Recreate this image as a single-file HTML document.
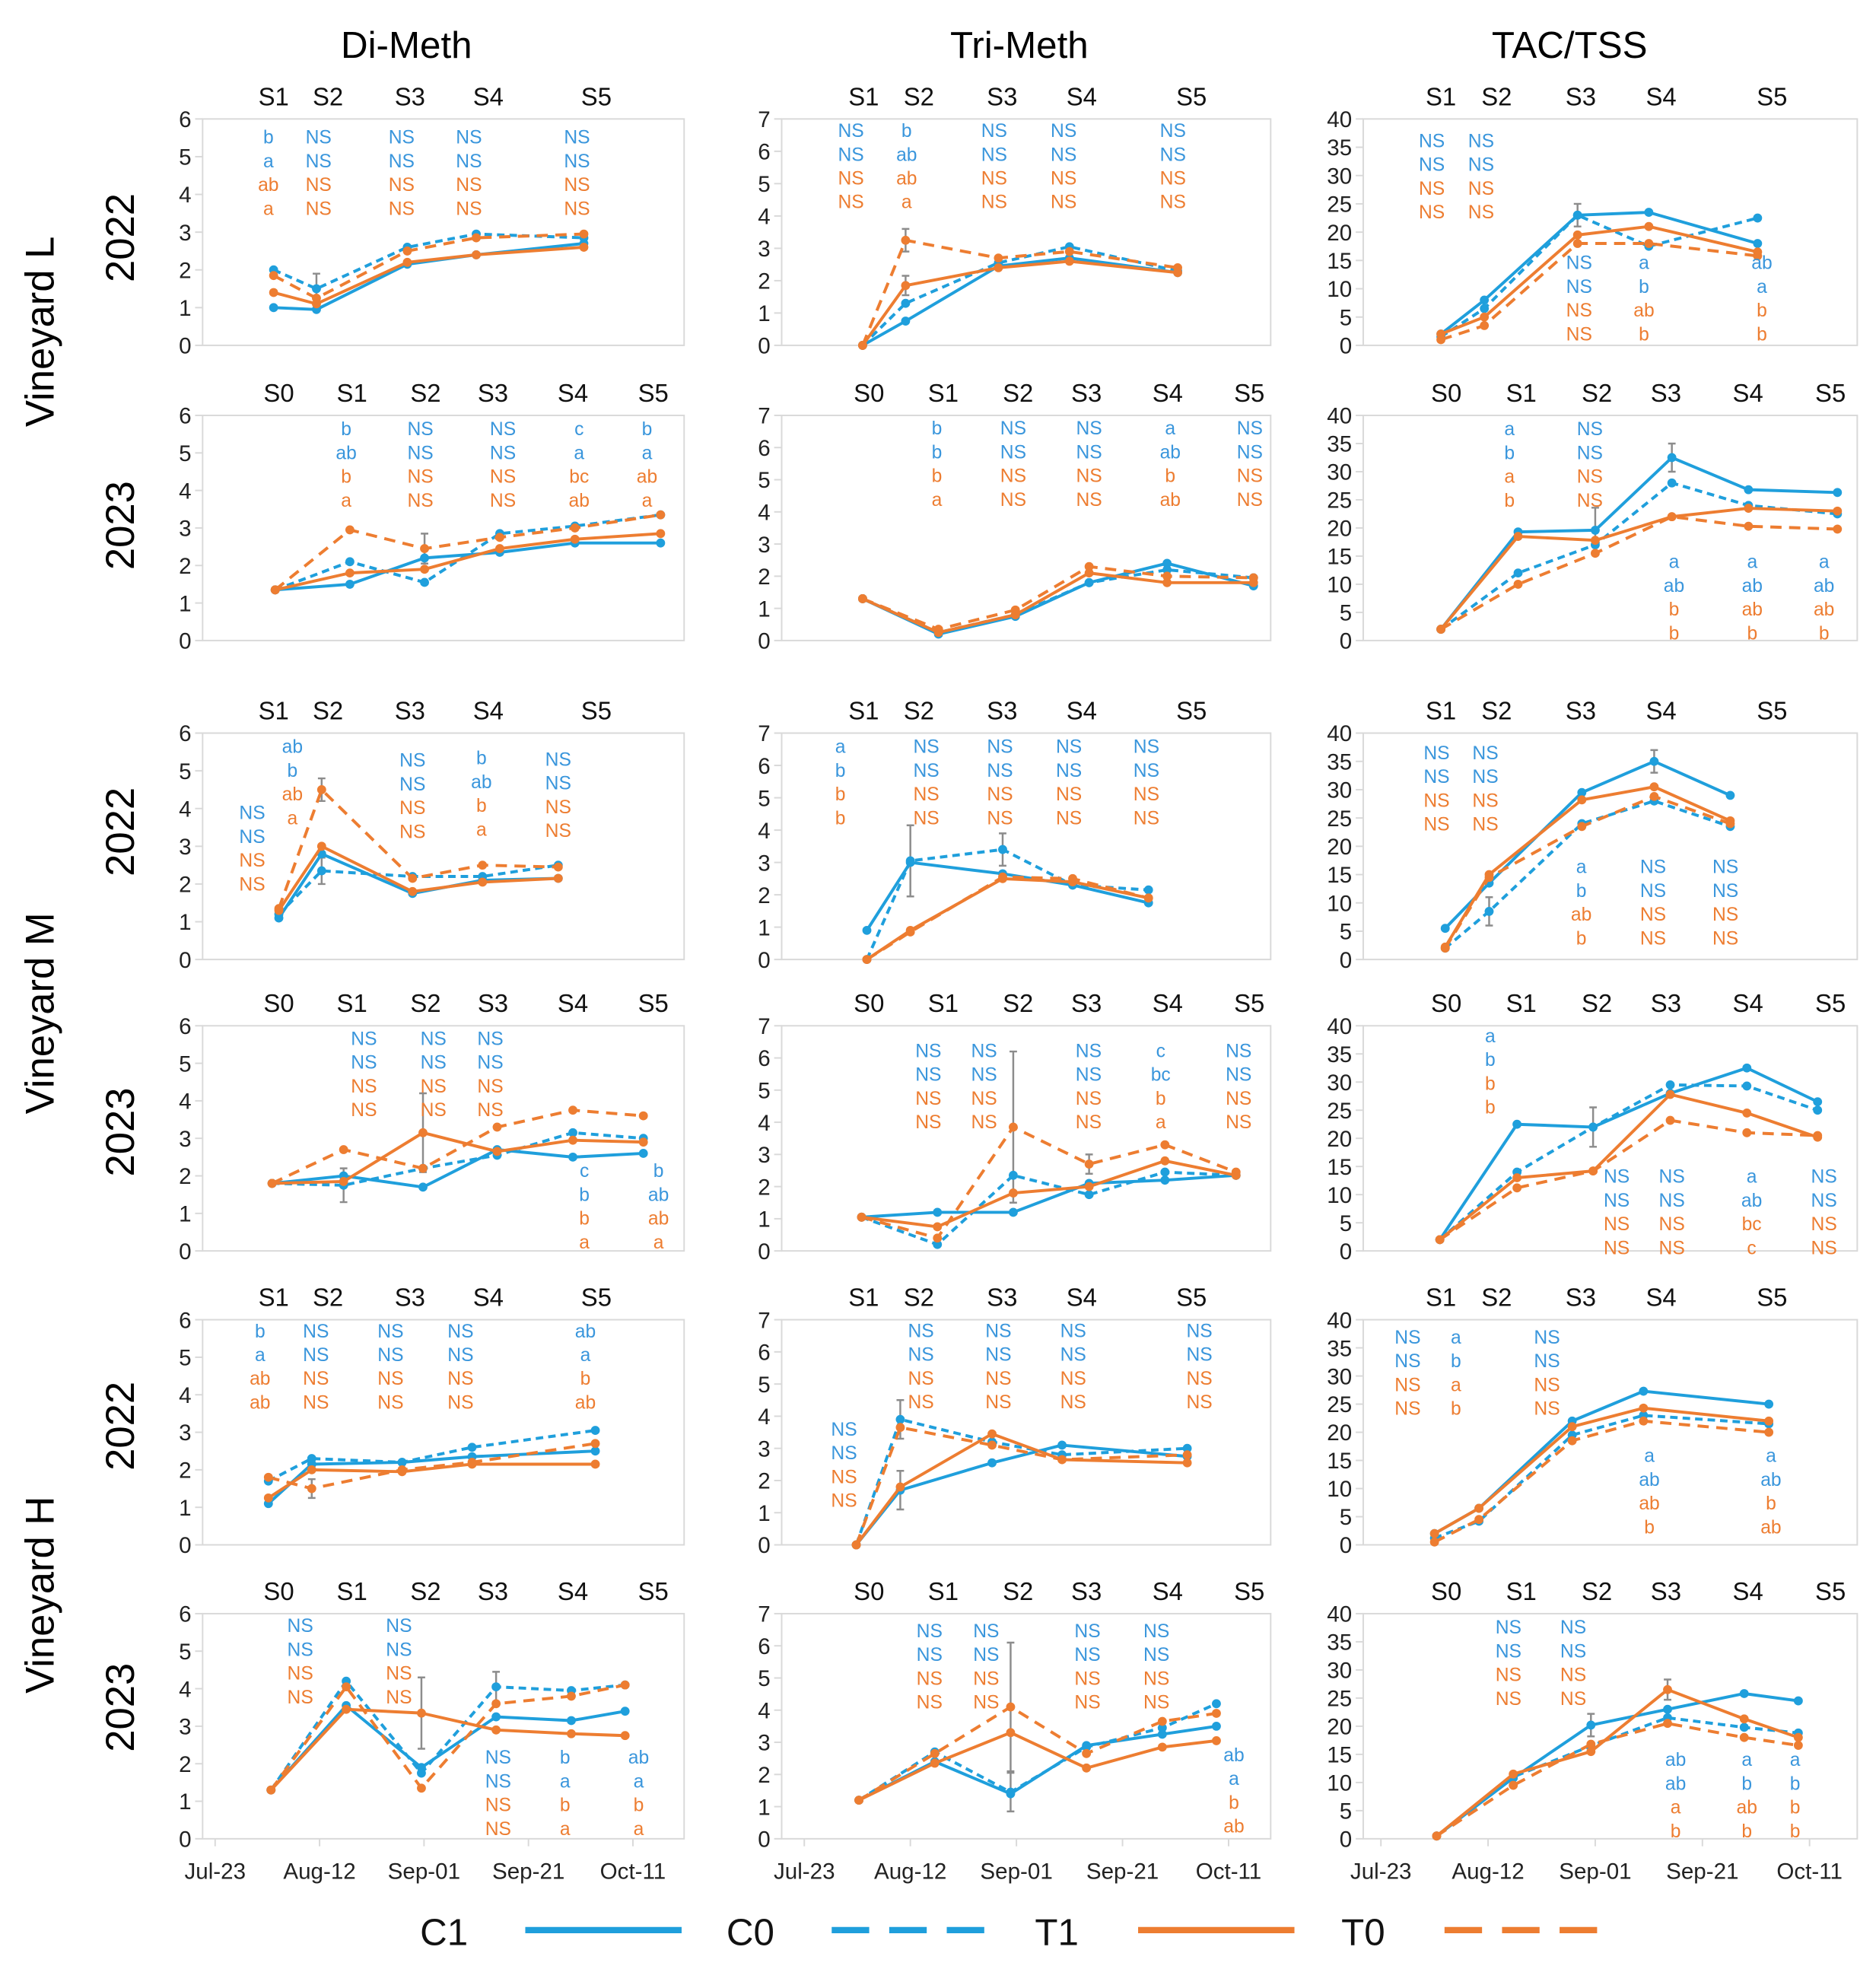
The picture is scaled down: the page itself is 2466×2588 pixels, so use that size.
<!DOCTYPE html>
<html><head><meta charset="utf-8"><title>Methoxypyrazine and TAC/TSS panels</title>
<style>html,body{margin:0;padding:0;background:#fff}svg{display:block}text{font-family:"Liberation Sans",sans-serif}</style>
</head><body>
<svg id="chart" xmlns="http://www.w3.org/2000/svg" width="2466" height="2588" viewBox="0 0 1500 1574"></svg>
<script>
// ---- tick / category arrays ----
const dateLabels = ["Jul-23","Aug-12","Sep-01","Sep-21","Oct-11"];
const dateDays = [0,20,40,60,80];
const stages22 = ["S1","S2","S3","S4","S5"];
const stages23 = ["S0","S1","S2","S3","S4","S5"];
const stageDays22 = [11.2,21.6,37.3,52.3,73];
const stageDays23 = [12.2,26.2,40.3,53.2,68.5,83.9];
const seriesNames = ["C1","C0","T1","T0"];

// ---- Vineyard L 2022 ----
const L22_di_days=[11.2,19.4,36.8,50.0,70.6];
const L22_di_C1=[1.0,0.95,2.15,2.4,2.7];
const L22_di_C0=[2.0,1.5,2.6,2.95,2.85];
const L22_di_T1=[1.4,1.1,2.2,2.4,2.6];
const L22_di_T0=[1.85,1.25,2.5,2.85,2.95];
const L22_tri_days=[11,19.1,36.6,50,70.4];
const L22_tri_C1=[0,0.75,2.45,2.7,2.25];
const L22_tri_C0=[0,1.3,2.55,3.05,2.3];
const L22_tri_T1=[0,1.85,2.4,2.6,2.25];
const L22_tri_T0=[0,3.25,2.7,2.9,2.4];
const L22_tac_days=[11.2,19.3,36.7,50,70.3];
const L22_tac_C1=[2,8,23,23.5,18];
const L22_tac_C0=[1.5,6.5,23,17.5,22.5];
const L22_tac_T1=[2,5,19.5,21,16.5];
const L22_tac_T0=[1,3.5,18,18,15.8];
// ---- Vineyard L 2023 ----
const L23_di_days=[11.5,25.8,40.1,54.5,68.9,85.3];
const L23_di_C1=[1.35,1.5,2.2,2.35,2.6,2.6];
const L23_di_C0=[1.35,2.1,1.55,2.85,3.05,3.35];
const L23_di_T1=[1.35,1.8,1.9,2.45,2.7,2.85];
const L23_di_T0=[1.35,2.95,2.45,2.75,3.0,3.35];
const L23_tri_days=[11,25.3,39.8,53.7,68.4,84.7];
const L23_tri_C1=[1.3,0.2,0.75,1.8,2.4,1.7];
const L23_tri_C0=[1.3,0.25,0.8,1.8,2.2,1.95];
const L23_tri_T1=[1.3,0.25,0.8,2.1,1.8,1.8];
const L23_tri_T0=[1.3,0.35,0.95,2.3,2.0,1.95];
const L23_tac_days=[11.2,25.6,40,54.3,68.6,85.2];
const L23_tac_C1=[2,19.3,19.6,32.5,26.8,26.3];
const L23_tac_C0=[2,12,17,28,24,22.5];
const L23_tac_T1=[2,18.5,17.8,22,23.5,23];
const L23_tac_T0=[2,10,15.5,22,20.3,19.8];
// ---- Vineyard M 2022 ----
const M22_di_days=[12.2,20.4,37.8,51.2,65.7];
const M22_di_C1=[1.1,2.8,1.75,2.1,2.15];
const M22_di_C0=[1.2,2.35,2.2,2.2,2.5];
const M22_di_T1=[1.3,3.0,1.8,2.05,2.15];
const M22_di_T0=[1.35,4.5,2.15,2.5,2.45];
const M22_tri_days=[11.8,20,37.4,50.6,64.9];
const M22_tri_C1=[0.9,3.0,2.65,2.3,1.75];
const M22_tri_C0=[0,3.05,3.4,2.3,2.15];
const M22_tri_T1=[0,0.9,2.5,2.4,1.9];
const M22_tri_T0=[0,0.85,2.55,2.5,1.9];
const M22_tac_days=[12,20.2,37.5,51,65.2];
const M22_tac_C1=[5.5,13.5,29.5,35,29];
const M22_tac_C0=[2,8.5,24,28,23.5];
const M22_tac_T1=[2.2,15,28.2,30.5,24.5];
const M22_tac_T0=[2,14.5,23.5,28.8,24];
// ---- Vineyard M 2023 ----
const M23_di_days=[10.9,24.6,39.8,54,68.5,82];
const M23_di_C1=[1.8,2.0,1.7,2.7,2.5,2.6];
const M23_di_C0=[1.8,1.75,2.2,2.55,3.15,3.0];
const M23_di_T1=[1.8,1.85,3.15,2.65,2.95,2.9];
const M23_di_T0=[1.8,2.7,2.2,3.3,3.75,3.6];
const M23_tri_days=[10.8,25.1,39.4,53.7,68,81.4];
const M23_tri_C1=[1.05,1.2,1.2,2.1,2.2,2.35];
const M23_tri_C0=[1.05,0.2,2.35,1.75,2.45,2.35];
const M23_tri_T1=[1.05,0.75,1.8,2.0,2.8,2.35];
const M23_tri_T0=[1.05,0.4,3.85,2.7,3.3,2.45];
const M23_tac_days=[11,25.4,39.6,54,68.3,81.5];
const M23_tac_C1=[2,22.5,22,28,32.5,26.5];
const M23_tac_C0=[2,14,22,29.5,29.3,25];
const M23_tac_T1=[2,13,14.2,27.8,24.5,20.2];
const M23_tac_T0=[2,11.2,14.2,23.2,21,20.5];
// ---- Vineyard H 2022 ----
const H22_di_days=[10.2,18.5,35.8,49.2,72.8];
const H22_di_C1=[1.1,2.15,2.2,2.35,2.5];
const H22_di_C0=[1.7,2.3,2.2,2.6,3.05];
const H22_di_T1=[1.25,2.0,1.95,2.15,2.15];
const H22_di_T0=[1.8,1.5,2.0,2.2,2.7];
const H22_tri_days=[9.8,18.1,35.4,48.6,72.2];
const H22_tri_C1=[0,1.7,2.55,3.1,2.75];
const H22_tri_C0=[0,3.9,3.2,2.8,3.0];
const H22_tri_T1=[0,1.8,3.45,2.65,2.55];
const H22_tri_T0=[0,3.65,3.1,2.65,2.8];
const H22_tac_days=[10,18.3,35.7,49,72.4];
const H22_tac_C1=[2,6.5,22,27.3,25];
const H22_tac_C0=[1.2,4.2,19.5,23,21.5];
const H22_tac_T1=[2,6.5,21,24.3,22];
const H22_tac_T0=[0.5,4.5,18.5,22,20];
// ---- Vineyard H 2023 ----
const H23_di_days=[10.7,25.1,39.5,53.8,68.2,78.5];
const H23_di_C1=[1.3,3.55,1.9,3.25,3.15,3.4];
const H23_di_C0=[1.3,4.2,1.75,4.05,3.95,4.1];
const H23_di_T1=[1.3,3.45,3.35,2.9,2.8,2.75];
const H23_di_T0=[1.3,4.05,1.35,3.6,3.8,4.1];
const H23_tri_days=[10.3,24.6,38.9,53.2,67.5,77.7];
const H23_tri_C1=[1.2,2.4,1.4,2.9,3.25,3.5];
const H23_tri_C0=[1.2,2.7,1.45,2.85,3.45,4.2];
const H23_tri_T1=[1.2,2.35,3.3,2.2,2.85,3.05];
const H23_tri_T0=[1.2,2.65,4.1,2.65,3.65,3.9];
const H23_tac_days=[10.4,24.7,39.2,53.5,67.8,77.9];
const H23_tac_C1=[0.5,10.8,20.2,23,25.8,24.5];
const H23_tac_C0=[0.5,11,16.5,21.5,19.8,18.8];
const H23_tac_T1=[0.5,11.5,15.5,26.5,21.3,18];
const H23_tac_T0=[0.5,9.5,16.8,20.5,18,16.6];

// ---- error bars: [panelId, seriesIndex, pointIndex, halfWidth] ----
const errorBars=[
 ["L22_tri",3,1,0.35],["L22_tri",2,1,0.3],["L22_tac",0,2,2],["L22_di",1,1,0.4],
 ["L23_tac",0,2,4],["L23_tac",0,3,2.5],["L23_di",3,2,0.4],
 ["M22_di",3,1,0.3],["M22_di",1,1,0.35],["M22_tri",1,1,1.1],["M22_tri",1,2,0.5],["M22_tac",1,1,2.5],["M22_tac",0,3,2],
 ["M23_di",2,2,1.05],["M23_di",1,1,0.45],["M23_tri",3,2,2.35],["M23_tri",3,3,0.3],["M23_tac",1,2,3.5],
 ["H22_tri",1,1,0.6],["H22_tri",0,1,0.6],["H22_di",3,1,0.25],
 ["H23_di",2,2,0.95],["H23_di",1,3,0.4],["H23_tri",3,2,2.0],["H23_tri",1,2,0.6],["H23_tac",2,3,1.8],["H23_tac",0,2,2]
];

// ---- significance letters: [day, offsetPx, labels] ----
const NS=["NS","NS","NS","NS"];
const letters={
 L22_di:[[10.2,14.7,["b","a","ab","a"]],[19.8,14.7,NS],[35.7,14.7,NS],[48.6,14.7,NS],[69.3,14.7,NS]],
 L23_di:[[25.1,10.9,["b","ab","b","a"]],[39.3,10.9,NS],[55.1,10.9,NS],[69.7,10.9,["c","a","bc","ab"]],[82.7,10.9,["b","a","ab","a"]]],
 M22_di:[[7.1,63.8,NS],[14.8,10.9,["ab","b","ab","a"]],[37.8,21.8,NS],[51,20,["b","ab","b","a"]],[65.7,21,NS]],
 M23_di:[[28.5,10.3,NS],[41.8,10.3,NS],[52.7,10.3,NS],[70.7,116,["c","b","b","a"]],[84.9,116,["b","ab","ab","a"]]],
 H22_di:[[8.6,9.1,["b","a","ab","ab"]],[19.3,9.1,NS],[33.6,9.1,NS],[47,9.1,NS],[70.9,9.1,["ab","a","b","ab"]]],
 H23_di:[[16.3,9.7,NS],[35.2,9.7,NS],[54.2,115,NS],[67,115,["b","a","b","a"]],[81.1,115,["ab","a","b","a"]]],
 L22_tri:[[8.8,9.4,NS],[19.3,9.4,["b","ab","ab","a"]],[35.8,9.4,NS],[48.9,9.4,NS],[69.5,9.4,NS]],
 L23_tri:[[25,10.3,["b","b","b","a"]],[39.4,10.3,NS],[53.7,10.3,NS],[69,10.3,["a","ab","b","ab"]],[84,10.3,NS]],
 M22_tri:[[6.8,10.9,["a","b","b","b"]],[23,10.9,NS],[36.9,10.9,NS],[49.9,10.9,NS],[64.5,10.9,NS]],
 M23_tri:[[23.4,20,NS],[33.9,20,NS],[53.6,20,NS],[67.2,20,["c","bc","b","a"]],[81.9,20,NS]],
 H22_tri:[[7.5,87.6,NS],[22,8.8,NS],[36.6,8.8,NS],[50.7,8.8,NS],[74.5,8.8,NS]],
 H23_tri:[[23.6,13.8,NS],[34.3,13.8,NS],[53.4,13.8,NS],[66.4,13.8,NS],[81,113,["ab","a","b","ab"]]],
 L22_tac:[[9.5,17.6,NS],[18.7,17.6,NS],[37,115,NS],[49.1,115,["a","b","ab","b"]],[71.1,115,["ab","a","b","b"]]],
 L23_tac:[[24,10.9,["a","b","a","b"]],[39,10.9,NS],[54.7,117,["a","ab","b","b"]],[69.3,117,["a","ab","ab","b"]],[82.7,117,["a","ab","ab","b"]]],
 M22_tac:[[10.4,15.9,NS],[19.5,15.9,NS],[37.4,107,["a","b","ab","b"]],[50.8,107,NS],[64.3,107,NS]],
 M23_tac:[[20.4,8.2,["a","b","b","b"]],[44,120.6,NS],[54.3,120.6,NS],[69.2,120.6,["a","ab","bc","c"]],[82.7,120.6,NS]],
 H22_tac:[[5,14.1,NS],[14,14.1,["a","b","a","b"]],[31,14.1,NS],[50.1,108.8,["a","ab","ab","b"]],[72.8,108.8,["a","ab","b","ab"]]],
 H23_tac:[[23.8,10.9,NS],[35.9,10.9,NS],[55,116.8,["ab","ab","a","b"]],[68.3,116.8,["a","b","ab","b"]],[77.3,116.8,["a","b","b","b"]]]
};

// ---- layout ----
const BLUE="#1f9fdc", ORANGE="#ed7d31", LBLUE="#3a96dc";
const colX=[[162,547],[625,1016],[1090,1485]];
const colShift=[5,13,9];
const rowY=[[95,276],[332,512],[586,767],[820,1000],[1055,1235],[1290,1470]];
const colMax=[6,7,40], colStep=[1,1,5];
const vine=["L","M","H"], kinds=["di","tri","tac"];

const svg=document.getElementById("chart");
const NSs="http://www.w3.org/2000/svg";
function el(tag,attrs,parent){const e=document.createElementNS(NSs,tag);for(const k in attrs)e.setAttribute(k,attrs[k]);(parent||svg).appendChild(e);return e;}
function txt(s,attrs,parent){const e=el("text",attrs,parent);e.textContent=s;return e;}

const get=n=>window.eval(n);

[["Di-Meth",325],["Tri-Meth",815],["TAC/TSS",1255]].forEach(([t,x],i)=>{
 const e=txt(t,{x:x,y:46,"font-size":30,"text-anchor":"middle",fill:"#000"});
 
 
});
[["Vineyard L",265],["Vineyard M",810],["Vineyard H",1275]].forEach(([t,y],i)=>{
 const e=txt(t,{x:0,y:0,"font-size":32,"text-anchor":"middle",transform:`translate(43,${y}) rotate(-90)`});
 
 
});
[190,420,665,905,1140,1365].forEach((y,i)=>{
 const e=txt(i%2?"2023":"2022",{x:0,y:0,"font-size":32,"text-anchor":"middle",transform:`translate(107,${y}) rotate(-90)`});
 
 
});

for(let r=0;r<6;r++){
 const yr=r%2?"23":"22";
 const vid=vine[Math.floor(r/2)]+yr;
 for(let c=0;c<3;c++){
  const id=vid+"_"+kinds[c];
  const [L,R]=colX[c],[T,B]=rowY[r],ymax=colMax[c];
  const xs=d=>L+colShift[c]+(d+1.2)/92.2*(R-L);
  const ys=v=>B-v/ymax*(B-T);
  const g=el("g",{});
  
  
  const box=el("rect",{x:L,y:T,width:R-L,height:B-T,fill:"none",stroke:"#d9d9d9","stroke-width":1.2},g);
  
  
  for(let v=0;v<=ymax;v+=colStep[c]){
   el("line",{x1:L-6,x2:L,y1:ys(v),y2:ys(v),stroke:"#d9d9d9","stroke-width":1.2},g);
   const t=txt(String(v),{x:L-9,y:ys(v)+6.5,"font-size":18,"text-anchor":"end",fill:"#222"},g);
   
   
  }
  const st=yr==="22"?stages22:stages23, sd=yr==="22"?stageDays22:stageDays23;
  st.forEach((s,i)=>{
   const t=txt(s,{x:xs(sd[i]),y:T-11,"font-size":20,"text-anchor":"middle",fill:"#111"},g);
   
   
  });
  if(r===5){
   dateDays.forEach((d,i)=>{
    el("line",{x1:xs(d),x2:xs(d),y1:B,y2:B+6,stroke:"#d9d9d9","stroke-width":1.2},g);
    const t=txt(dateLabels[i],{x:xs(d),y:B+32,"font-size":18,"text-anchor":"middle",fill:"#222"},g);
    
    
   });
  }
  const days=get(id+"_days");
  const styles=[[BLUE,null],[BLUE,"6,4"],[ORANGE,null],[ORANGE,"9,6"]];
  const serVals=seriesNames.map(s=>get(id+"_"+s));
  errorBars.filter(e=>e[0]===id).forEach(e=>{
   const x=xs(days[e[2]]),v=serVals[e[1]][e[2]];
   const eb=el("path",{d:`M${x},${ys(v-e[3])}V${ys(v+e[3])}M${x-3},${ys(v-e[3])}h6M${x-3},${ys(v+e[3])}h6`,stroke:"#8c8c8c","stroke-width":1.5,fill:"none"},g);
   
   
  });
  serVals.forEach((vals,si)=>{
   const [col,dash]=styles[si];
   const pts=vals.map((v,i)=>xs(days[i])+","+ys(v)).join(" ");
   const a={points:pts,fill:"none",stroke:col,"stroke-width":2.4,"stroke-linejoin":"round"};
   if(dash)a["stroke-dasharray"]=dash;
   const pl=el("polyline",a,g);
   
   
   vals.forEach((v,i)=>{
    const m=el("circle",{cx:xs(days[i]),cy:ys(v),r:3.6,fill:col},g);
    
    
   });
  });
  (letters[id]||[]).forEach(([d,off,arr])=>{
   arr.forEach((s,i)=>{
    const t=txt(s,{x:xs(d),y:T+off+5+i*19,"font-size":15,"text-anchor":"middle",fill:i<2?LBLUE:ORANGE},g);
    
    
   });
  });
 }
}

const legendItems=[["C1",355,420,BLUE,null],["C0",600,665,BLUE,"30,16"],["T1",845,910,ORANGE,null],["T0",1090,1155,ORANGE,"30,16"]];
legendItems.forEach(([n,tx,lx,col,dash])=>{
 const g=el("g",{});
 
 
 txt(n,{x:tx,y:1555,"font-size":30,"text-anchor":"middle",fill:"#111"},g);
 const a={x1:lx,x2:lx+125,y1:1543,y2:1543,stroke:col,"stroke-width":5};
 if(dash)a["stroke-dasharray"]=dash;
 el("line",a,g);
});
</script>
</body></html>
